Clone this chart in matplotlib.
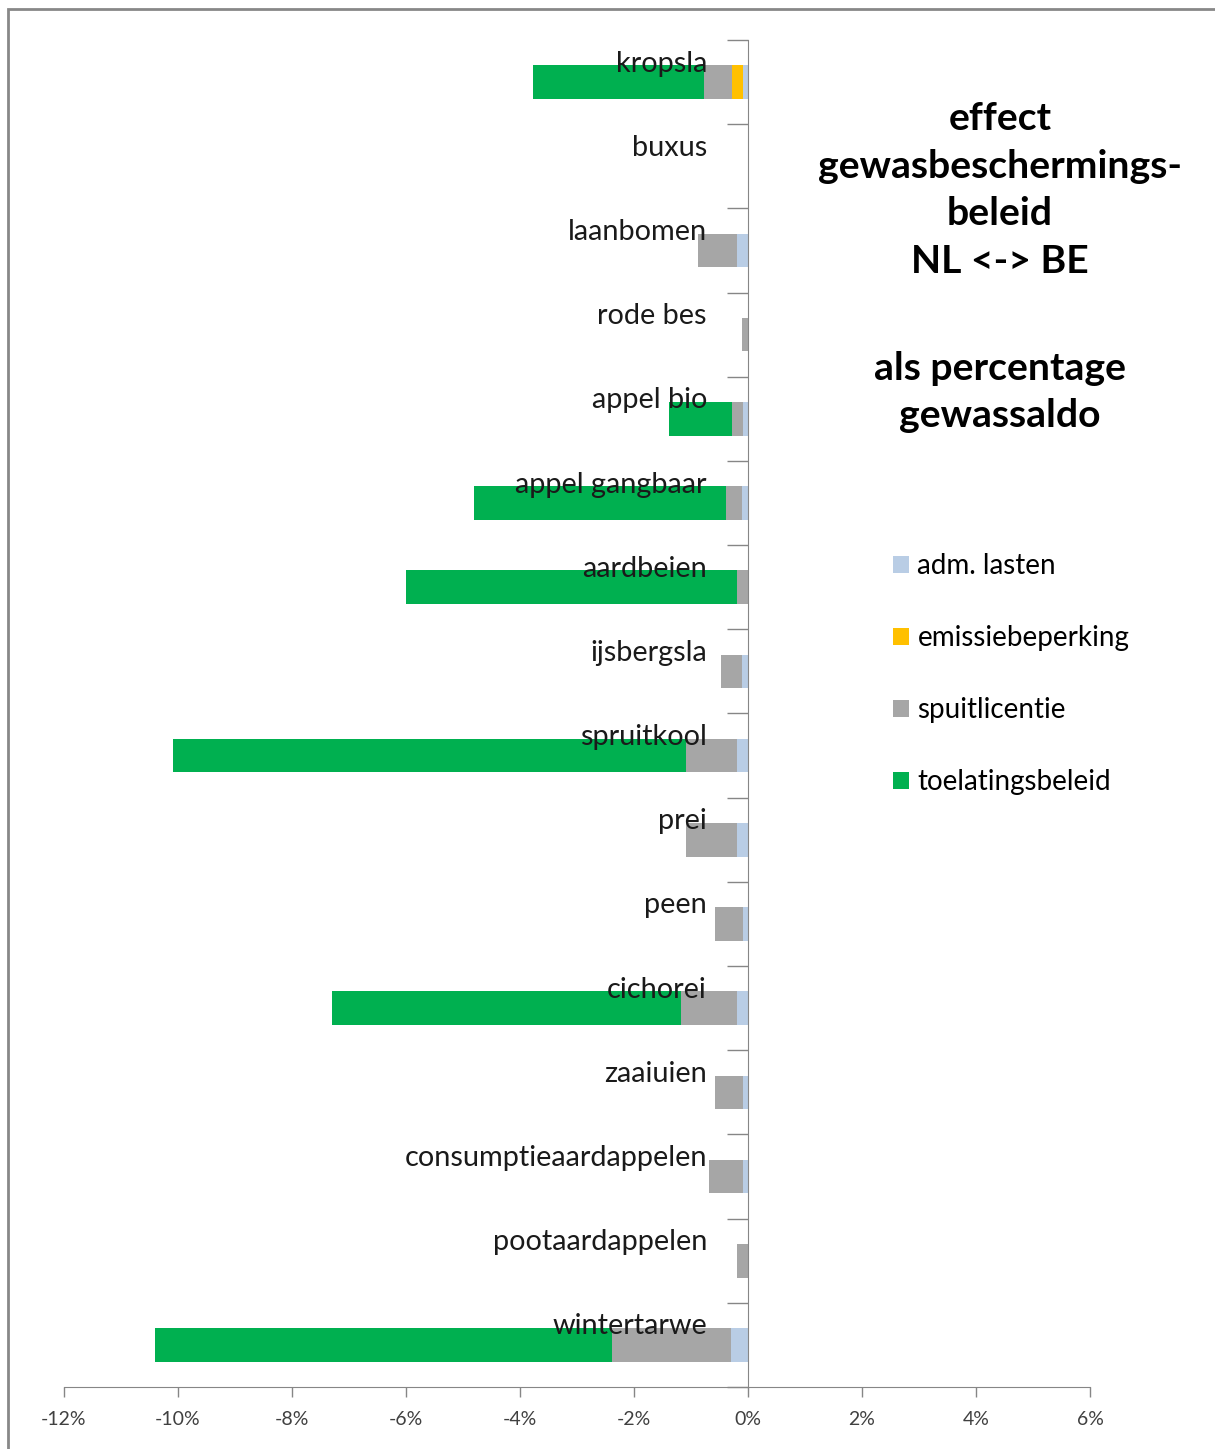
import numpy as np
import matplotlib
matplotlib.use('Agg')
import matplotlib.pyplot as plt
from matplotlib.patches import Rectangle, Patch
from matplotlib.ticker import FuncFormatter, FixedLocator

plt.rcParams['font.family'] = ['Lato', 'DejaVu Sans']

# gewassen, van boven naar beneden
gewassen = ['kropsla', 'buxus', 'laanbomen', 'rode bes', 'appel bio', 'appel gangbaar',
            'aardbeien', 'ijsbergsla', 'spruitkool', 'prei', 'peen', 'cichorei',
            'zaaiuien', 'consumptieaardappelen', 'pootaardappelen', 'wintertarwe']

# effect in % van het gewassaldo (negatief = nadeel NL)
adm_lasten = [-0.09, 0, -0.19, 0, -0.09, -0.10, 0, -0.10, -0.19, -0.19, -0.09, -0.19,
              -0.09, -0.09, 0, -0.29]
emissiebeperking = [-0.19, 0, 0, 0, 0, 0, 0, 0, 0, 0, 0, 0, 0, 0, 0, 0]
spuitlicentie = [-0.50, 0, -0.69, -0.10, -0.19, -0.28, -0.19, -0.38, -0.89, -0.89, -0.49,
                 -0.98, -0.49, -0.60, -0.19, -2.09]
toelatingsbeleid = [-3.00, 0, 0, 0, -1.10, -4.43, -5.81, 0, -9.00, 0, 0, -6.12, 0, 0, 0,
                    -8.03]

reeksen = ['adm. lasten', 'emissiebeperking', 'spuitlicentie', 'toelatingsbeleid']
kleuren = ['#B9CDE5', '#FFC000', '#A6A6A6', '#00B050']

fig = plt.figure(figsize=(12.15, 14.49), dpi=100)
ax = fig.add_axes([64 / 1215, 1 - 1387 / 1449, 1026 / 1215, 1347 / 1449])

y = np.arange(len(gewassen))
left = np.zeros(len(gewassen))
for naam, vals, kleur in zip(reeksen, [adm_lasten, emissiebeperking, spuitlicentie, toelatingsbeleid], kleuren):
    vals = np.array(vals)
    ax.barh(y, vals, left=left, height=0.4, color=kleur, edgecolor='none', label=naam, zorder=2)
    left = left + vals

ax.set_xlim(-12, 6)
ax.set_ylim(len(gewassen) - 0.5, -0.5)

# assen
for s in ['top', 'right']:
    ax.spines[s].set_visible(False)
ax.spines['left'].set_position(('data', 0))
ax.spines['left'].set_color('#868686')
ax.spines['bottom'].set_color('#868686')
ax.spines['left'].set_zorder(3)

ax.xaxis.set_major_locator(FixedLocator(np.arange(-12, 7, 2)))
ax.xaxis.set_major_formatter(FuncFormatter(lambda v, p: '%d%%' % v))
ax.tick_params(axis='x', direction='out', length=7, width=1, color='#868686',
               labelsize=14, labelcolor='#404040', pad=10)
ax.yaxis.set_major_locator(FixedLocator(np.arange(-0.5, len(gewassen), 1)))
ax.tick_params(axis='y', direction='out', length=15, width=1, color='#868686', labelleft=False)

for i, g in enumerate(gewassen):
    ax.text(-0.72, i - 0.22, g, ha='right', va='center', fontsize=20.8, color='#1a1a1a', zorder=4)

# titel
fig.text(1000 / 1215, 1 - 190 / 1449, 'effect\ngewasbeschermings-\nbeleid\nNL <-> BE',
         ha='center', va='center', fontsize=28.2, fontweight='bold', linespacing=1.44)
fig.text(1000 / 1215, 1 - 392 / 1449, 'als percentage\ngewassaldo',
         ha='center', va='center', fontsize=28.2, fontweight='bold', linespacing=1.44)

# legenda
handles = [Patch(facecolor=k, edgecolor='none') for k in kleuren]
fig.legend(handles, reeksen, loc='upper left', bbox_to_anchor=(893 / 1215, 1 - 553 / 1449),
           frameon=False, fontsize=20, handlelength=0.58, handleheight=0.58,
           handletextpad=0.3, labelspacing=1.66, borderaxespad=0, borderpad=0)

# kader en afgesneden tekst bovenaan
fig.patches.append(Rectangle((8 / 1215, -0.1), 1.2, 1 - 9 / 1449 + 0.1, transform=fig.transFigure,
                             fill=False, edgecolor='#888888', linewidth=2))
fig.text(0, 1 + 4 / 1449, 'van middelen in Nederland.', ha='left', va='baseline', fontsize=19)

fig.savefig('out.png', dpi=100)
